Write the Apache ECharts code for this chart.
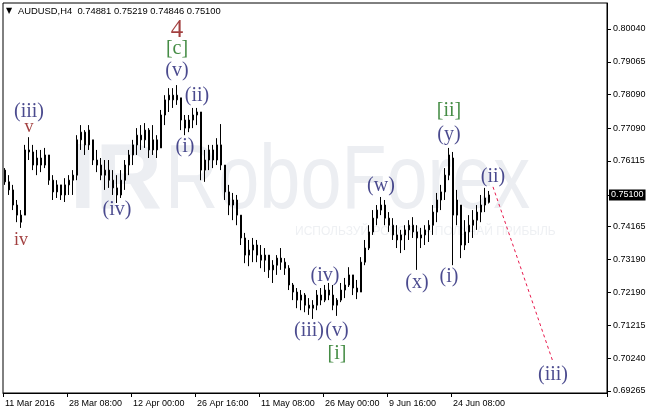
<!DOCTYPE html>
<html><head><meta charset="utf-8">
<script src="https://cdn.jsdelivr.net/npm/echarts@6/dist/echarts.min.js"></script>
<style>html,body{margin:0;padding:0;background:#fff}#c{width:646px;height:414px}</style>
</head><body><div id="c"></div>
<script>
// ---- price data (aggregated H4 bars) ----
const opens=[0.7584,0.7549,0.7525,0.7480,0.7450,0.7450,0.7644,0.7638,0.7599,0.7620,0.7599,0.7629,0.7554,0.7519,0.7540,0.7510,0.7540,0.7554,0.7569,0.7674,
0.7697,0.7659,0.7674,0.7614,0.7599,0.7569,0.7584,0.7554,0.7531,0.7510,0.7554,0.7599,0.7629,0.7659,0.7688,0.7674,0.7703,0.7644,0.7674,0.7650,
0.7748,0.7793,0.7807,0.7793,0.7799,0.7733,0.7709,0.7733,0.7748,0.7757,0.7584,0.7614,0.7644,0.7614,0.7659,0.7599,0.7519,0.7480,0.7495,0.7450,
0.7382,0.7331,0.7346,0.7361,0.7331,0.7316,0.7331,0.7287,0.7301,0.7322,0.7310,0.7292,0.7242,0.7221,0.7197,0.7212,0.7182,0.7173,0.7182,0.7212,
0.7197,0.7227,0.7212,0.7182,0.7197,0.7227,0.7242,0.7272,0.7233,0.7221,0.7310,0.7352,0.7400,0.7441,0.7465,0.7480,0.7441,0.7420,0.7391,0.7376,
0.7391,0.7406,0.7420,0.7400,0.7382,0.7391,0.7406,0.7420,0.7459,0.7495,0.7519,0.7569,0.7620,0.7450,0.7480,0.7361,0.7400,0.7420,0.7435,0.7459,
0.7480,0.74881];
const closes=[0.7549,0.7525,0.7480,0.7450,0.7429,0.7644,0.7638,0.7599,0.7620,0.7599,0.7629,0.7554,0.7519,0.7540,0.7510,0.7540,0.7554,0.7569,0.7674,0.7697,
0.7659,0.7703,0.7614,0.7599,0.7569,0.7584,0.7554,0.7531,0.7510,0.7554,0.7599,0.7629,0.7659,0.7688,0.7674,0.7703,0.7644,0.7674,0.7644,0.7748,
0.7793,0.7807,0.7793,0.7807,0.7733,0.7709,0.7733,0.7748,0.7757,0.7584,0.7614,0.7644,0.7614,0.7659,0.7599,0.7519,0.7480,0.7495,0.7450,0.7382,
0.7331,0.7346,0.7361,0.7331,0.7316,0.7331,0.7287,0.7301,0.7322,0.7310,0.7292,0.7242,0.7221,0.7197,0.7212,0.7182,0.7173,0.7182,0.7212,0.7197,
0.7227,0.7212,0.7182,0.7197,0.7227,0.7242,0.7272,0.7233,0.7221,0.7310,0.7352,0.7400,0.7441,0.7465,0.7480,0.7441,0.7420,0.7391,0.7376,0.7391,
0.7406,0.7420,0.7400,0.7382,0.7391,0.7406,0.7420,0.7459,0.7495,0.7519,0.7569,0.7629,0.7450,0.7495,0.7361,0.7400,0.7420,0.7435,0.7459,0.7480,
0.7501,0.75100];
const lows=[0.7540,0.7510,0.7465,0.7429,0.7412,0.7450,0.7614,0.7584,0.7569,0.7578,0.7590,0.7540,0.7495,0.7501,0.7495,0.7489,0.7510,0.7510,0.7554,0.7644,
0.7629,0.7644,0.7599,0.7578,0.7554,0.7525,0.7531,0.7510,0.7486,0.7501,0.7525,0.7569,0.7599,0.7629,0.7644,0.7650,0.7620,0.7629,0.7620,0.7650,
0.7718,0.7757,0.7769,0.7778,0.7703,0.7688,0.7697,0.7709,0.7718,0.7554,0.7549,0.7584,0.7590,0.7599,0.7584,0.7495,0.7450,0.7435,0.7420,0.7361,
0.7307,0.7298,0.7310,0.7310,0.7292,0.7281,0.7263,0.7248,0.7272,0.7287,0.7272,0.7227,0.7197,0.7173,0.7167,0.7161,0.7153,0.7141,0.7167,0.7182,
0.7191,0.7197,0.7167,0.7150,0.7191,0.7203,0.7236,0.7212,0.7200,0.7221,0.7301,0.7346,0.7391,0.7420,0.7450,0.7420,0.7400,0.7376,0.7352,0.7337,
0.7346,0.7376,0.7382,0.7287,0.7352,0.7361,0.7370,0.7391,0.7429,0.7465,0.7495,0.7554,0.7301,0.7420,0.7322,0.7346,0.7367,0.7382,0.7406,0.7429,
0.7459,0.74846];
const highs=[0.7590,0.7569,0.7540,0.7495,0.7465,0.7659,0.7682,0.7659,0.7644,0.7644,0.7650,0.7629,0.7569,0.7554,0.7540,0.7560,0.7569,0.7584,0.7688,0.7718,
0.7703,0.7718,0.7674,0.7644,0.7620,0.7614,0.7614,0.7584,0.7569,0.7584,0.7614,0.7644,0.7674,0.7709,0.7718,0.7724,0.7709,0.7718,0.7688,0.7763,
0.7807,0.7828,0.7828,0.7837,0.7799,0.7748,0.7748,0.7769,0.7769,0.7757,0.7644,0.7659,0.7659,0.7679,0.7721,0.7599,0.7540,0.7516,0.7510,0.7450,
0.7397,0.7376,0.7382,0.7376,0.7361,0.7352,0.7331,0.7316,0.7331,0.7352,0.7322,0.7301,0.7248,0.7233,0.7227,0.7218,0.7203,0.7197,0.7227,0.7233,
0.7242,0.7248,0.7242,0.7203,0.7248,0.7263,0.7295,0.7272,0.7257,0.7325,0.7376,0.7420,0.7465,0.7480,0.7504,0.7495,0.7459,0.7441,0.7420,0.7406,
0.7420,0.7435,0.7444,0.7420,0.7412,0.7420,0.7435,0.7480,0.7516,0.7540,0.7590,0.7650,0.7638,0.7525,0.7480,0.7435,0.7450,0.7465,0.7480,0.7510,
0.7531,0.75219];

// ---- axis ----
const slotCount = 151;               // candle slots incl. empty right margin
const tickIndex  = [0,16,32,48,64,80,96,112];
const tickLabels = ["11 Mar 2016","28 Mar 08:00","12 Apr 00:00","26 Apr 16:00","11 May 08:00","26 May 00:00","9 Jun 16:00","24 Jun 08:00"];
const yTicks = [0.80040,0.79065,0.78090,0.77090,0.76115,0.74165,0.73190,0.72190,0.71215,0.70240,0.69265];
const lastPrice = 0.75100;
const yMin = 0.69205, yMax = 0.80814;

// ---- projection (dotted) ----
const projIdx = [122,137];
const projVal = [0.7534,0.7013];

// ---- wave labels ----
const waveText = ['4','[c]','(v)','(ii)','(i)','(iii)','v','iv','(iv)','(iii)','(v)','(iv)','[i]','(w)','(x)','[ii]','(y)','(i)','(ii)','(iii)'];
const waveIdx  = [43,43,43,48,45,6,6,4,28,76,83,80,83,94,103,111,111,111,122,137];
const waveVal  = [0.8001,0.7944,0.7879,0.7805,0.7653,0.7757,0.7712,0.7376,0.7465,0.7105,0.7105,0.7269,0.7037,0.7537,0.7248,0.7760,0.7688,0.7266,0.7563,0.6974];

const title = 'AUDUSD,H4  0.74881 0.75219 0.74846 0.75100';

// ---- build ----
const categories = Array.from({length: slotCount}, (_, i) => {
  const k = tickIndex.indexOf(i);
  return k >= 0 ? tickLabels[k] : 'slot' + i;
});
const candles = opens.map((o, i) => [o, closes[i], lows[i], highs[i]]);
const showTick = (i) => tickIndex.indexOf(i) >= 0;

function waveStyle(t){
  if (/^\d/.test(t)) return {color:'#8b0f0f', fontSize:25};
  if (t[0] === '[') return {color:'#176f17', fontSize:20};
  if (t[0] === '(') return {color:'#1d1d72', fontSize:20};
  return {color:'#8b0f0f', fontSize:18};
}
const waveData = waveText.map((t, i) => {
  const s = waveStyle(t);
  return {name: t, value: [waveIdx[i], waveVal[i]],
    label: {color: s.color, fontSize: s.fontSize}};
});

const chart = echarts.init(document.getElementById('c'), null, {renderer:'canvas'});
const font = '"Liberation Sans", Arial, sans-serif';
chart.setOption({
  animation: false,
  backgroundColor: '#ffffff',
  grid: {left: 3, right: 39, top: 3, bottom: 21, show: true, borderColor: '#000', borderWidth: 1,
    containLabel: false, outerBoundsMode: 'none'},
  graphic: [
    {type:'text', x: 70, y: 183, z: 0, silent: true,
      style:{text:'IR', font:'bold 92px "Liberation Sans", Arial', fill:'#eceef2', verticalAlign:'middle'}},
    {type:'text', x: 165, y: 183, z: 0, scaleX: 0.82, silent: true,
      style:{text:'RoboForex', font:'90px "Liberation Sans", Arial', fill:'#eceef2', verticalAlign:'middle'}},
    {type:'text', x: 295, y: 232, z: 0, silent: true,
      style:{text:'ИСПОЛЬЗУЙ РОБОТА – ПОЛУЧАЙ ПРИБЫЛЬ', font:'12px "Liberation Sans", Arial', fill:'#eef0f3', verticalAlign:'middle'}},
    {type:'text', x: 6, y: 11, z: 10,
      style:{text:'▼', font:'8px "DejaVu Sans"', fill:'#000', verticalAlign:'middle'}},
    {type:'text', x: 18, y: 11, z: 10,
      style:{text: title, font:'9.4px ' + font, fill:'#000', verticalAlign:'middle'}}
  ],
  xAxis: {
    type: 'category', data: categories, boundaryGap: true,
    axisLine: {lineStyle: {color: '#000', width: 1}},
    axisTick: {show: true, interval: (i) => showTick(i), length: 4, lineStyle: {color: '#000'}},
    axisLabel: {interval: (i) => showTick(i), align: 'left', margin: 6, color: '#000',
      fontSize: 9, fontFamily: font, formatter: (v) => v},
    splitLine: {show: false}
  },
  yAxis: {
    type: 'value', position: 'right', min: yMin, max: yMax, scale: true,
    axisLine: {show: true, lineStyle: {color: '#000', width: 1}},
    axisTick: {show: true, customValues: yTicks.concat([lastPrice]), length: 4, lineStyle: {color: '#000'}},
    axisLabel: {customValues: yTicks.concat([lastPrice]), margin: 2, color: '#000', fontSize: 9, fontFamily: font,
      formatter: (v) => Math.abs(v - lastPrice) < 1e-7 ? '{cur|' + v.toFixed(5) + '}' : '{norm|' + v.toFixed(5) + '}',
      rich: {
        norm: {color: '#000', fontSize: 9, fontFamily: font, padding: [0, 0, 0, 4]},
        cur: {backgroundColor: '#000', color: '#fff', fontSize: 9, fontFamily: font, padding: [1, 2, 1, 2]}
      }},
    splitLine: {show: false}
  },
  series: [
    {type: 'candlestick', data: candles, barWidth: 2, z: 3,
      itemStyle: {color: '#000', color0: '#000', borderColor: '#000', borderColor0: '#000', borderWidth: 1}},
    {type: 'line', data: projIdx.map((x, i) => [x, projVal[i]]), symbol: 'none', z: 4,
      lineStyle: {color: '#e8184c', width: 1, type: [3, 3]}},
    {type: 'scatter', data: waveData, symbolSize: 1, z: 5, itemStyle: {color: 'rgba(0,0,0,0)'},
      label: {show: true, position: 'inside', formatter: (p) => p.name,
        fontFamily: '"Liberation Serif", "Times New Roman", serif'}}
  ]
});
</script>
</body></html>
